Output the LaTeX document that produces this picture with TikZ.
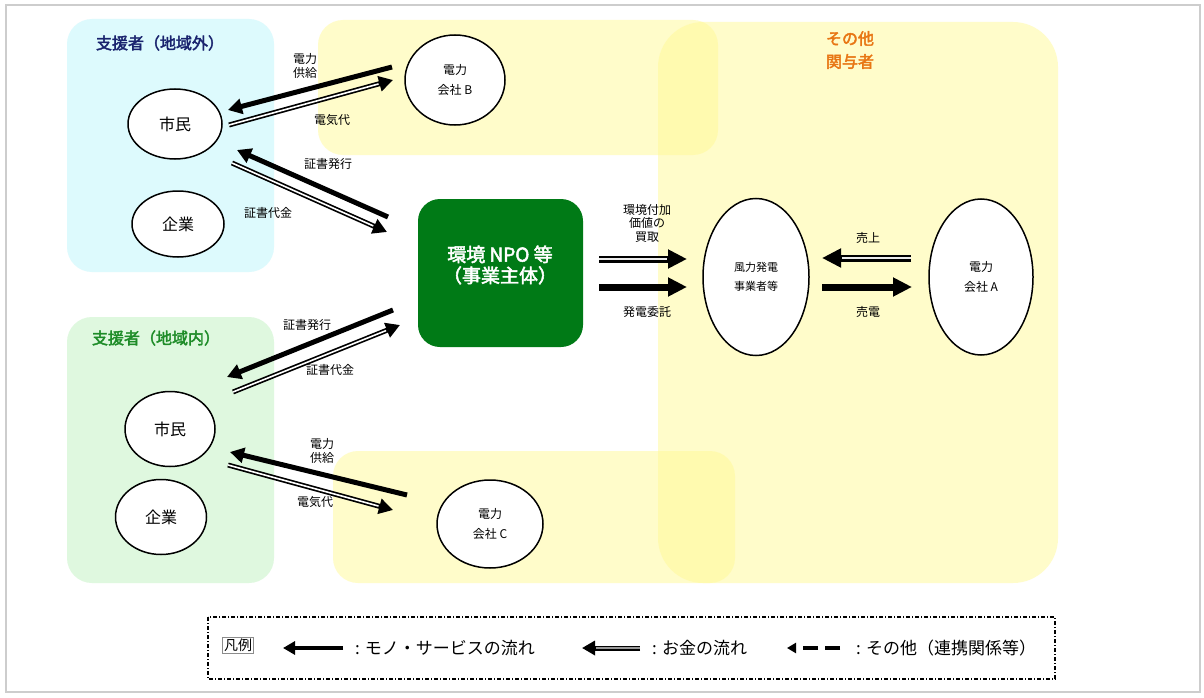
\documentclass[tikz,border=0pt]{standalone}
\usepackage{fontspec}
\setmainfont{Noto Sans CJK JP}[AutoFakeBold=2.5]
\usetikzlibrary{arrows.meta,shapes.geometric}
\definecolor{cyanbg}{RGB}{221,250,253}
\definecolor{greenbg}{RGB}{223,248,223}
\definecolor{ylw}{RGB}{255,250,150}
\definecolor{navy}{RGB}{25,35,110}
\definecolor{grn}{RGB}{30,140,40}
\definecolor{orng}{RGB}{232,118,20}
\definecolor{npog}{RGB}{0,122,22}
\definecolor{frame}{RGB}{205,205,205}
\begin{document}
\begin{tikzpicture}[x=1pt,y=-1pt,
  circ/.style={draw, line width=1.5pt, ellipse, fill=white, inner sep=0pt, align=center},
  bigtxt/.style={font=\fontsize{16}{18}\selectfont},
  smtxt/.style={font=\fontsize{12}{20}\selectfont},
  lbl/.style={font=\fontsize{12}{13.5}\selectfont, align=center, inner sep=0pt},
  ttl/.style={font=\bfseries\fontsize{16}{23}\selectfont, align=center, inner sep=0pt},
  thing/.style={line width=5pt, -{Triangle[length=14pt,width=15pt]}},
  money/.style={line width=5pt, -{Triangle[length=14pt,width=15pt]},
    postaction={draw=white, line width=1.6pt, arrows=-, shorten >=15pt}},
  bigthing/.style={line width=7pt, -{Triangle[length=19pt,width=18pt]}},
  bigmoney/.style={line width=7pt, -{Triangle[length=19pt,width=18pt]},
    postaction={draw=black!8, line width=2.4pt, arrows=-, shorten >=20pt}},
  legthing/.style={line width=4pt, -{Triangle[length=12pt,width=13pt]}},
  legmoney/.style={line width=5pt, -{Triangle[length=13pt,width=14pt]},
    postaction={draw=black!40, line width=1.8pt, arrows=-, shorten >=14pt}},
  legother/.style={line width=4pt, dash pattern=on 15pt off 7pt, -{Triangle[length=9pt,width=10pt]}},
  legtxt/.style={font=\fontsize{17}{19}\selectfont, anchor=west, inner sep=0pt},
]
\useasboundingbox (0,0) rectangle (1204,698);
\fill[white] (0,0) rectangle (1204,698);
\draw[frame, line width=1.5pt] (6,5) rectangle (1200,692);

% background groups
\fill[cyanbg, rounded corners=25pt] (67,19) rectangle (274,272);
\fill[greenbg, rounded corners=25pt] (67,317) rectangle (274,583);
\fill[ylw, fill opacity=0.5, rounded corners=25pt] (318,20) rectangle (718,155);
\fill[ylw, fill opacity=0.5, rounded corners=45pt] (658,22) rectangle (1058,583);
\fill[ylw, fill opacity=0.5, rounded corners=25pt] (333,451) rectangle (735,583);

% group titles
\node[ttl, text=navy] (tout) at (160,43) {支援者（地域外）};
\node[ttl, text=grn] (tin) at (156,338) {支援者（地域内）};
\node[ttl, text=orng] (tother) at (850,50) {その他\\関与者};

% nodes
\node[circ, bigtxt, minimum width=94pt, minimum height=70pt] (shiminA) at (175,124) {市民};
\node[circ, bigtxt, minimum width=92pt, minimum height=66pt] (kigyoA) at (178,224) {企業};
\node[circ, smtxt, minimum width=100pt, minimum height=90pt] (denB) at (455,80) {電力\\会社 B};
\node[circ, bigtxt, minimum width=90pt, minimum height=75pt] (shiminB) at (170,429) {市民};
\node[circ, bigtxt, minimum width=91pt, minimum height=75pt] (kigyoB) at (161,517) {企業};
\node[circ, smtxt, minimum width=106pt, minimum height=88pt] (denC) at (490,524) {電力\\会社 C};
\node[fill=npog, rounded corners=22pt, minimum width=165pt, minimum height=148pt] (npo) at (500.5,273) {};
\node[text=white, font=\bfseries\fontsize{19}{21}\selectfont, align=center] (npolbl) at (500,265) {環境 NPO 等\\（事業主体）};
\node[circ, font=\fontsize{11}{19}\selectfont, minimum width=106pt, minimum height=157pt] (wind) at (756,277) {風力発電\\事業者等};
\node[circ, smtxt, minimum width=104pt, minimum height=156pt] (denA) at (981,277) {電力\\会社 A};

% connector end points
\coordinate (b1s) at (392,67);  \coordinate (b1e) at (228,110);
\coordinate (b2s) at (229,125); \coordinate (b2e) at (393,80);
\coordinate (n1s) at (388,217); \coordinate (n1e) at (237,150);
\coordinate (n2s) at (232,163); \coordinate (n2e) at (387,232);
\coordinate (n3s) at (393,310); \coordinate (n3e) at (227,377);
\coordinate (n4s) at (233,392); \coordinate (n4e) at (400,325);
\coordinate (c1s) at (407,495); \coordinate (c1e) at (230,452);
\coordinate (c2s) at (228,465); \coordinate (c2e) at (393,510);
\coordinate (w1s) at (599,259); \coordinate (w1e) at (687,259);
\coordinate (w2s) at (599,287); \coordinate (w2e) at (687,287);
\coordinate (a1s) at (911,258); \coordinate (a1e) at (822,258);
\coordinate (a2s) at (822,287); \coordinate (a2e) at (912,287);

\draw[thing] (b1s) -- (b1e);
\draw[money] (b2s) -- (b2e);
\draw[thing] (n1s) -- (n1e);
\draw[money] (n2s) -- (n2e);
\draw[thing] (n3s) -- (n3e);
\draw[money] (n4s) -- (n4e);
\draw[thing] (c1s) -- (c1e);
\draw[money] (c2s) -- (c2e);
\draw[bigmoney] (w1s) -- (w1e);
\draw[bigthing] (w2s) -- (w2e);
\draw[bigmoney] (a1s) -- (a1e);
\draw[bigthing] (a2s) -- (a2e);

% connector labels
\node[lbl] (l1) at (305,66) {電力\\供給};
\node[lbl] (l2) at (332,120) {電気代};
\node[lbl] (l3) at (328,164) {証書発行};
\node[lbl] (l4) at (268,213) {証書代金};
\node[lbl] (l5) at (307,325) {証書発行};
\node[lbl] (l6) at (330,370) {証書代金};
\node[lbl] (l7) at (322,451) {電力\\供給};
\node[lbl] (l8) at (315,502) {電気代};
\node[lbl] (l9) at (647,223) {環境付加\\価値の\\買取};
\node[lbl] (l10) at (647,312) {発電委託};
\node[lbl] (l11) at (868,238) {売上};
\node[lbl] (l12) at (868,312) {売電};

% legend
\draw[line width=1.2pt, dash pattern=on 4pt off 2pt on 1pt off 2pt] (208,617) rectangle (1055,679);
\node[draw=black!45, line width=0.8pt, inner sep=1.5pt, font=\fontsize{14}{16}\selectfont] (hanrei) at (238,645) {凡例};
\coordinate (g1s) at (343,648); \coordinate (g1e) at (283,648);
\coordinate (g2s) at (640,648); \coordinate (g2e) at (582,648);
\coordinate (g3s) at (840,648); \coordinate (g3e) at (787,648);
\draw[legthing] (g1s) -- (g1e);
\draw[legmoney] (g2s) -- (g2e);
\draw[legother] (g3s) -- (g3e);
\node[legtxt] (t1) at (355,648) {: モノ・サービスの流れ};
\node[legtxt] (t2) at (652,648) {: お金の流れ};
\node[legtxt] (t3) at (856,648) {: その他（連携関係等）};
\end{tikzpicture}
\end{document}
